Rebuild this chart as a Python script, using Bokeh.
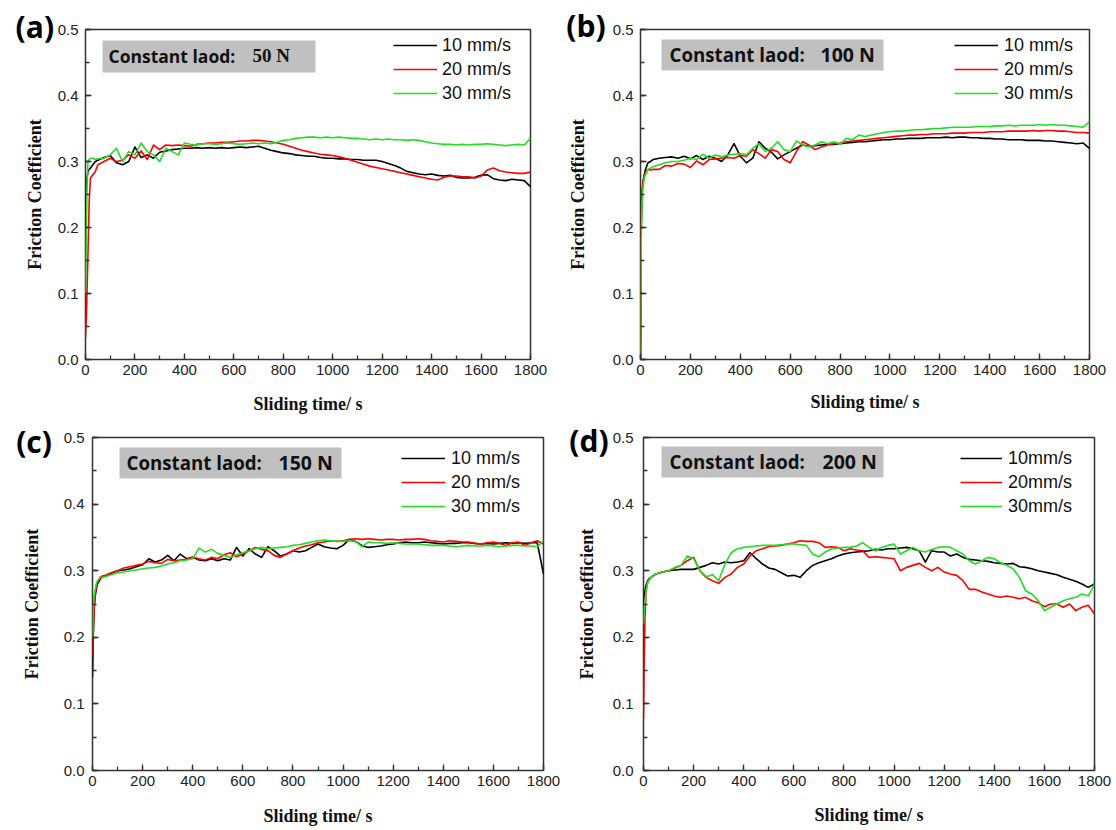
from bokeh.plotting import figure
from bokeh.models import (Range1d, SingleIntervalTicker, PrintfTickFormatter, Label,
                          BoxAnnotation, Legend, LegendItem, LinearAxis, FixedTicker)
from bokeh.layouts import row, column
from bokeh.embed import file_html
from bokeh.resources import INLINE

# ---------------- data ----------------
TIME_S = [0, 3, 6, 10, 15, 20, 30, 40] + list(range(50, 1801, 25))

A_10 = [0.20, 0.25, 0.275, 0.285, 0.288, 0.29, 0.295, 0.300,
        0.302, 0.306, 0.309, 0.298, 0.295, 0.300, 0.322, 0.306, 0.310, 0.305,
        0.314, 0.316, 0.318, 0.319, 0.320, 0.320, 0.321, 0.320, 0.321, 0.320,
        0.321, 0.320, 0.321, 0.322, 0.321, 0.322, 0.323, 0.320, 0.317, 0.315,
        0.313, 0.312, 0.310, 0.309, 0.308, 0.308, 0.306, 0.305, 0.305, 0.304,
        0.304, 0.303, 0.303, 0.302, 0.302, 0.302, 0.300, 0.297, 0.294, 0.290,
        0.285, 0.283, 0.281, 0.280, 0.281, 0.279, 0.278, 0.279, 0.276, 0.275,
        0.275, 0.276, 0.279, 0.280, 0.274, 0.272, 0.271, 0.273, 0.272, 0.271,
        0.262]
A_20 = [0.033, 0.06, 0.10, 0.16, 0.24, 0.275, 0.280, 0.285,
        0.295, 0.300, 0.305, 0.300, 0.302, 0.310, 0.305, 0.316, 0.303, 0.325,
        0.318, 0.325, 0.324, 0.325, 0.324, 0.323, 0.326, 0.327, 0.328, 0.328,
        0.329, 0.329, 0.330, 0.331, 0.331, 0.332, 0.332, 0.331, 0.330, 0.328,
        0.326, 0.323, 0.320, 0.317, 0.315, 0.313, 0.311, 0.310, 0.309, 0.307,
        0.305, 0.302, 0.299, 0.296, 0.293, 0.291, 0.289, 0.287, 0.285, 0.283,
        0.281, 0.279, 0.277, 0.275, 0.273, 0.272, 0.276, 0.278, 0.278, 0.277,
        0.277, 0.275, 0.278, 0.287, 0.290, 0.286, 0.284, 0.283, 0.282, 0.282,
        0.284]
A_30 = [0.10, 0.18, 0.26, 0.300, 0.303, 0.305, 0.305, 0.303,
        0.304, 0.305, 0.310, 0.320, 0.300, 0.315, 0.310, 0.328, 0.315, 0.310,
        0.300, 0.320, 0.315, 0.310, 0.328, 0.326, 0.325, 0.327, 0.327, 0.326,
        0.327, 0.328, 0.327, 0.326, 0.327, 0.328, 0.327, 0.328, 0.327, 0.329,
        0.332, 0.333, 0.335, 0.336, 0.337, 0.337, 0.336, 0.337, 0.336, 0.337,
        0.336, 0.335, 0.335, 0.334, 0.333, 0.334, 0.333, 0.334, 0.333, 0.333,
        0.332, 0.333, 0.332, 0.330, 0.328, 0.327, 0.326, 0.326, 0.325, 0.326,
        0.325, 0.326, 0.326, 0.327, 0.326, 0.325, 0.324, 0.325, 0.326, 0.325,
        0.335]

B_10 = [0.00, 0.20, 0.25, 0.270, 0.280, 0.288, 0.298, 0.300,
        0.303, 0.305, 0.306, 0.307, 0.305, 0.308, 0.304, 0.309, 0.303, 0.308,
        0.305, 0.300, 0.310, 0.327, 0.308, 0.298, 0.305, 0.330, 0.320, 0.314,
        0.304, 0.310, 0.315, 0.320, 0.325, 0.323, 0.324, 0.325, 0.326, 0.326,
        0.327, 0.328, 0.329, 0.330, 0.330, 0.331, 0.332, 0.333, 0.333, 0.334,
        0.334, 0.335, 0.335, 0.335, 0.336, 0.336, 0.336, 0.337, 0.336, 0.337,
        0.337, 0.336, 0.336, 0.335, 0.335, 0.334, 0.334, 0.333, 0.333, 0.333,
        0.332, 0.332, 0.332, 0.331, 0.331, 0.330, 0.329, 0.328, 0.327, 0.328,
        0.320]
B_20 = [0.00, 0.22, 0.255, 0.268, 0.278, 0.283, 0.288, 0.287,
        0.288, 0.288, 0.294, 0.293, 0.297, 0.296, 0.291, 0.301, 0.295, 0.303,
        0.304, 0.305, 0.306, 0.305, 0.309, 0.308, 0.318, 0.312, 0.305, 0.318,
        0.315, 0.303, 0.298, 0.315, 0.330, 0.325, 0.318, 0.322, 0.325, 0.327,
        0.328, 0.330, 0.331, 0.332, 0.333, 0.334, 0.335, 0.336, 0.337, 0.338,
        0.339, 0.340, 0.340, 0.341, 0.341, 0.342, 0.342, 0.342, 0.343, 0.343,
        0.343, 0.344, 0.344, 0.344, 0.345, 0.345, 0.345, 0.346, 0.346, 0.346,
        0.346, 0.347, 0.346, 0.347, 0.347, 0.346, 0.346, 0.345, 0.344, 0.344,
        0.343]
B_30 = [0.00, 0.18, 0.23, 0.260, 0.275, 0.280, 0.288, 0.290,
        0.292, 0.295, 0.298, 0.300, 0.300, 0.302, 0.305, 0.303, 0.311, 0.305,
        0.310, 0.307, 0.310, 0.311, 0.312, 0.310, 0.320, 0.327, 0.315, 0.320,
        0.330, 0.318, 0.315, 0.331, 0.325, 0.322, 0.325, 0.330, 0.327, 0.330,
        0.326, 0.335, 0.333, 0.340, 0.338, 0.340, 0.342, 0.344, 0.345, 0.346,
        0.346, 0.347, 0.348, 0.348, 0.349, 0.350, 0.350, 0.351, 0.352, 0.352,
        0.352, 0.352, 0.353, 0.353, 0.353, 0.354, 0.354, 0.355, 0.354, 0.355,
        0.355, 0.355, 0.356, 0.355, 0.356, 0.355, 0.355, 0.354, 0.353, 0.352,
        0.360]

C_10 = [0.14, 0.20, 0.24, 0.260, 0.272, 0.280, 0.287, 0.291,
        0.292, 0.296, 0.300, 0.301, 0.303, 0.306, 0.309, 0.318, 0.313, 0.316,
        0.323, 0.315, 0.325, 0.318, 0.320, 0.316, 0.315, 0.318, 0.315, 0.318,
        0.316, 0.335, 0.322, 0.333, 0.325, 0.320, 0.336, 0.330, 0.322, 0.325,
        0.330, 0.328, 0.330, 0.335, 0.340, 0.336, 0.334, 0.333, 0.338, 0.347,
        0.344, 0.338, 0.335, 0.336, 0.337, 0.339, 0.340, 0.342, 0.343, 0.342,
        0.342, 0.343, 0.342, 0.341, 0.340, 0.341, 0.341, 0.342, 0.342, 0.341,
        0.340, 0.341, 0.340, 0.341, 0.342, 0.341, 0.342, 0.341, 0.342, 0.342,
        0.295]
C_20 = [0.17, 0.21, 0.24, 0.262, 0.275, 0.283, 0.290, 0.292,
        0.293, 0.297, 0.300, 0.304, 0.306, 0.308, 0.310, 0.314, 0.312, 0.311,
        0.317, 0.315, 0.316, 0.317, 0.320, 0.318, 0.316, 0.320, 0.318, 0.324,
        0.327, 0.321, 0.325, 0.330, 0.335, 0.332, 0.330, 0.323, 0.320, 0.325,
        0.330, 0.334, 0.337, 0.339, 0.342, 0.343, 0.345, 0.344, 0.345, 0.347,
        0.348, 0.347, 0.348, 0.347, 0.346, 0.347, 0.347, 0.346, 0.347, 0.347,
        0.348, 0.347, 0.345, 0.344, 0.343, 0.345, 0.344, 0.343, 0.343, 0.341,
        0.340, 0.342, 0.343, 0.341, 0.338, 0.342, 0.343, 0.338, 0.342, 0.345,
        0.340]
C_30 = [0.20, 0.245, 0.26, 0.270, 0.280, 0.285, 0.289, 0.290,
        0.291, 0.294, 0.297, 0.298, 0.300, 0.301, 0.303, 0.304, 0.305, 0.307,
        0.310, 0.312, 0.315, 0.316, 0.318, 0.334, 0.328, 0.332, 0.326, 0.323,
        0.320, 0.324, 0.327, 0.330, 0.333, 0.335, 0.333, 0.334, 0.335, 0.336,
        0.338, 0.339, 0.341, 0.343, 0.345, 0.346, 0.345, 0.344, 0.344, 0.345,
        0.344, 0.336, 0.343, 0.342, 0.342, 0.341, 0.342, 0.341, 0.340, 0.340,
        0.340, 0.339, 0.338, 0.338, 0.338, 0.337, 0.336, 0.337, 0.338, 0.337,
        0.337, 0.338, 0.337, 0.336, 0.337, 0.338, 0.338, 0.337, 0.337, 0.336,
        0.345]

D_10 = [0.25, 0.262, 0.27, 0.278, 0.283, 0.287, 0.290, 0.293,
        0.295, 0.298, 0.300, 0.301, 0.302, 0.302, 0.302, 0.305, 0.308, 0.312,
        0.310, 0.313, 0.312, 0.313, 0.315, 0.327, 0.318, 0.310, 0.304, 0.302,
        0.297, 0.292, 0.293, 0.290, 0.300, 0.308, 0.312, 0.315, 0.318, 0.322,
        0.325, 0.327, 0.328, 0.329, 0.330, 0.332, 0.331, 0.333, 0.333, 0.334,
        0.335, 0.333, 0.330, 0.313, 0.330, 0.328, 0.328, 0.322, 0.325, 0.320,
        0.317, 0.316, 0.315, 0.314, 0.312, 0.311, 0.310, 0.311, 0.306, 0.305,
        0.303, 0.300, 0.298, 0.296, 0.294, 0.290, 0.287, 0.284, 0.280, 0.275,
        0.280]
D_20 = [0.078, 0.17, 0.23, 0.268, 0.280, 0.285, 0.290, 0.293,
        0.295, 0.298, 0.300, 0.304, 0.308, 0.315, 0.320, 0.300, 0.290, 0.285,
        0.281, 0.290, 0.295, 0.305, 0.310, 0.322, 0.330, 0.333, 0.336, 0.337,
        0.338, 0.340, 0.342, 0.345, 0.344, 0.344, 0.342, 0.335, 0.336, 0.335,
        0.330, 0.333, 0.331, 0.330, 0.320, 0.321, 0.320, 0.319, 0.318, 0.300,
        0.305, 0.308, 0.311, 0.305, 0.300, 0.305, 0.298, 0.295, 0.293, 0.285,
        0.272, 0.272, 0.268, 0.265, 0.262, 0.260, 0.262, 0.260, 0.258, 0.260,
        0.255, 0.252, 0.246, 0.250, 0.250, 0.245, 0.250, 0.240, 0.245, 0.248,
        0.235]
D_30 = [0.22, 0.24, 0.255, 0.270, 0.280, 0.285, 0.290, 0.293,
        0.295, 0.298, 0.300, 0.305, 0.308, 0.322, 0.318, 0.300, 0.291, 0.294,
        0.285, 0.310, 0.327, 0.333, 0.335, 0.336, 0.337, 0.338, 0.338, 0.338,
        0.339, 0.340, 0.340, 0.339, 0.338, 0.325, 0.321, 0.328, 0.333, 0.334,
        0.335, 0.335, 0.337, 0.342, 0.335, 0.330, 0.335, 0.338, 0.340, 0.325,
        0.330, 0.335, 0.330, 0.328, 0.332, 0.335, 0.336, 0.335, 0.330, 0.325,
        0.315, 0.310, 0.315, 0.320, 0.318, 0.312, 0.308, 0.303, 0.290, 0.270,
        0.265, 0.255, 0.240, 0.245, 0.250, 0.255, 0.258, 0.260, 0.265, 0.262,
        0.280]

SPEED_LABELS = ["10 mm/s", "20 mm/s", "30 mm/s"]
SPEED_LABELS_D = ["10mm/s", "20mm/s", "30mm/s"]
LOAD_VALUES = ["50 N", "100 N", "150 N", "200 N"]
PANEL_LETTERS = ["(a)", "(b)", "(c)", "(d)"]
X_LABEL = "Sliding time/ s"
Y_LABEL = "Friction Coefficient"
COLORS = ["#000000", "#ff0000", "#22dd22"]

# ---------------- layout / style per panel ----------------
GEOM = [
    dict(w=556, h=416, bl=85, br=26, bt=28, bb=57, yts=7, yls=10, xls=16,
         box=(17, 230, 287, 319), t1=(23, 304), t2=(167, 304), t1fs="17.5px",
         t2font="Liberation Serif", t2fs="19px", leg=(308, 254), gw=44, lst=5,
         nb=13, lso=-17),
    dict(w=558, h=416, bl=84, br=25, bt=29, bb=53, yts=7, yls=22, xls=14,
         box=(21, 243, 289, 320), t1=(29, 305), t2=(180, 305), t1fs="18.7px",
         t2font="Open Sans", t2fs="19.5px", leg=(314, 254), gw=44, lst=6,
         nb=14, lso=-16),
    dict(w=562, h=412, bl=92, br=19, bt=19, bb=56, yts=8, yls=19, xls=17,
         box=(27, 249, 292, 323), t1=(34, 308), t2=(186, 308), t1fs="18.7px",
         t2font="Open Sans", t2fs="19.5px", leg=(309, 252), gw=44, lst=6,
         nb=15, lso=-24),
    dict(w=552, h=412, bl=81, br=20, bt=20, bb=55, yts=10, yls=13, xls=16,
         box=(18, 240, 293, 324), t1=(26, 309), t2=(179, 309), t1fs="18.7px",
         t2font="Open Sans", t2fs="19.5px", leg=(317, 252), gw=42, lst=6,
         nb=14, lso=-23),
]


def add_letter(p, letter, g):
    # panel letter drawn as the single tick label of a bare extra axis above the frame
    ax = LinearAxis(ticker=FixedTicker(ticks=[0], minor_ticks=[]),
                    formatter=PrintfTickFormatter(format=letter + "\u00a0" * g["nb"]),
                    axis_line_color=None, major_tick_line_color=None,
                    minor_tick_line_color=None, major_tick_in=0, major_tick_out=0,
                    minor_tick_in=0, minor_tick_out=0,
                    major_label_standoff=g["lso"],
                    major_label_text_font="Open Sans", major_label_text_font_style="bold",
                    major_label_text_font_size="30px", major_label_text_color="#000000")
    p.add_layout(ax, "above")


def make_panel(letter, series, labels, load, g):
    p = figure(width=g["w"], height=g["h"], output_backend="svg", toolbar_location=None,
               x_range=Range1d(0, 1800), y_range=Range1d(0, 0.5),
               min_border_left=g["bl"], min_border_right=g["br"],
               min_border_top=g["bt"], min_border_bottom=g["bb"],
               background_fill_color="white", border_fill_color="white")
    p.grid.visible = False
    p.outline_line_color = "#333333"
    p.outline_line_width = 1.5
    for ax in (p.xaxis[0], p.yaxis[0]):
        ax.axis_line_color = None
        ax.major_tick_in = 6
        ax.major_tick_out = 0
        ax.minor_tick_in = 4
        ax.minor_tick_out = 0
        ax.major_tick_line_color = "#333333"
        ax.major_tick_line_width = 1.3
        ax.minor_tick_line_color = "#333333"
        ax.minor_tick_line_width = 1.3
        ax.major_label_text_font = "Liberation Sans"
        ax.major_label_text_font_size = "15px"
        ax.major_label_text_color = "#222222"
        ax.axis_label_text_font = "Liberation Serif"
        ax.axis_label_text_font_style = "bold"
        ax.axis_label_text_font_size = "18px"
        ax.axis_label_text_color = "#111111"
    p.xaxis.ticker = SingleIntervalTicker(interval=200, num_minor_ticks=2)
    p.yaxis.ticker = SingleIntervalTicker(interval=0.1, num_minor_ticks=2)
    p.xaxis.formatter = PrintfTickFormatter(format="%d")
    p.yaxis.formatter = PrintfTickFormatter(format="%.1f")
    p.xaxis.axis_label = X_LABEL
    p.yaxis.axis_label = Y_LABEL
    p.xaxis.major_label_standoff = 5
    p.yaxis.major_label_standoff = g["yts"]
    p.xaxis.axis_label_standoff = g["xls"]
    p.yaxis.axis_label_standoff = g["yls"]

    rs = []
    for s, c in zip(series, COLORS):
        rs.append(p.line(TIME_S, s, line_color=c, line_width=1.6, line_join="round"))

    leg = Legend(items=[LegendItem(label=l, renderers=[r]) for l, r in zip(labels, rs)],
                 location=g["leg"], orientation="vertical", padding=0, margin=0, spacing=0,
                 glyph_width=g["gw"], glyph_height=24, label_height=24,
                 label_standoff=g["lst"], label_text_font="Liberation Sans",
                 label_text_font_size="18px", label_text_color="#111111",
                 background_fill_alpha=0, border_line_color=None)
    p.add_layout(leg)

    l, r, b, t = g["box"]
    p.add_layout(BoxAnnotation(left=l, right=r, bottom=b, top=t,
                               left_units="screen", right_units="screen",
                               bottom_units="screen", top_units="screen",
                               fill_color="#c0c0c0", fill_alpha=1.0, line_color=None))
    p.add_layout(Label(x=g["t1"][0], y=g["t1"][1], x_units="screen", y_units="screen",
                       text="Constant laod:", text_font="Open Sans", text_font_style="bold",
                       text_font_size=g["t1fs"], text_baseline="middle", text_align="left",
                       text_color="#111111"))
    p.add_layout(Label(x=g["t2"][0], y=g["t2"][1], x_units="screen", y_units="screen",
                       text=load, text_font=g["t2font"], text_font_style="bold",
                       text_font_size=g["t2fs"], text_baseline="middle", text_align="left",
                       text_color="#111111"))
    add_letter(p, letter, g)
    return p


pa = make_panel(PANEL_LETTERS[0], [A_10, A_20, A_30], SPEED_LABELS, LOAD_VALUES[0], GEOM[0])
pb = make_panel(PANEL_LETTERS[1], [B_10, B_20, B_30], SPEED_LABELS, LOAD_VALUES[1], GEOM[1])
pc = make_panel(PANEL_LETTERS[2], [C_10, C_20, C_30], SPEED_LABELS, LOAD_VALUES[2], GEOM[2])
pd = make_panel(PANEL_LETTERS[3], [D_10, D_20, D_30], SPEED_LABELS_D, LOAD_VALUES[3], GEOM[3])

layout = column(row(pa, pb), row(pc, pd))
open("out.html", "w").write(file_html(layout, INLINE))
